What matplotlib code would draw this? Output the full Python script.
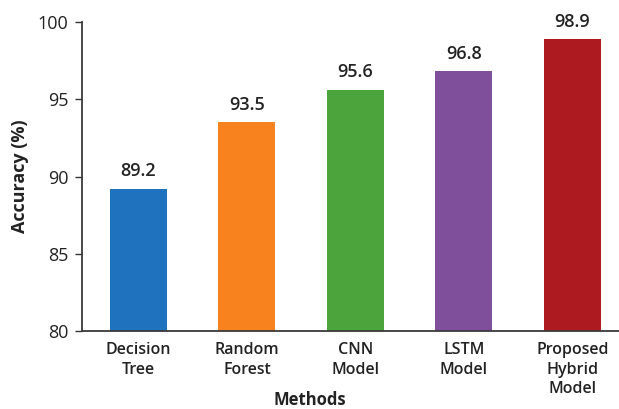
import matplotlib.pyplot as plt

plt.rcParams['font.family'] = ['Open Sans', 'DejaVu Sans']

methods = ['Decision\nTree', 'Random\nForest', 'CNN\nModel', 'LSTM\nModel', 'Proposed\nHybrid\nModel']
accuracy = [89.2, 93.5, 95.6, 96.8, 98.9]
colors = ['#1f73be', '#f7821e', '#4ba43c', '#7f4f9c', '#ad1a20']

fig = plt.figure(figsize=(6.19, 4.09), dpi=100)
ax = fig.add_axes([0.1325, 0.1907, 0.8675, 0.7555])

x = range(len(methods))
bars = ax.bar(x, accuracy, width=0.525, color=colors)
for b, v in zip(bars, accuracy):
    ax.text(b.get_x() + b.get_width() / 2, v + 0.55, f'{v}', ha='center', va='bottom',
            fontsize=13, fontweight='semibold', color='#222222')

ax.set_ylim(80, 100)
ax.set_xlim(-0.52, 4.43)
ax.set_yticks([80, 85, 90, 95, 100])
ax.set_xticks(list(x))
ax.set_xticklabels(methods, fontsize=11.5, fontweight='semibold', color='#222222', linespacing=1.3)
ax.tick_params(axis='x', length=0, pad=8)
ax.tick_params(axis='y', length=5, width=1, labelsize=13, colors='#333333', labelcolor='#222222', pad=5)

for s in ['top', 'right']:
    ax.spines[s].set_visible(False)
for s in ['left', 'bottom']:
    ax.spines[s].set_color('#3a3a3a')
    ax.spines[s].set_linewidth(1.3)

ax.set_ylabel('Accuracy (%)', fontsize=13, fontweight='bold', color='#222222', labelpad=6)
fig.text(0.5, 0.022, 'Methods', ha='center', va='center', fontsize=12,
         fontweight='bold', color='#222222')

fig.savefig('out.png', dpi=100)
